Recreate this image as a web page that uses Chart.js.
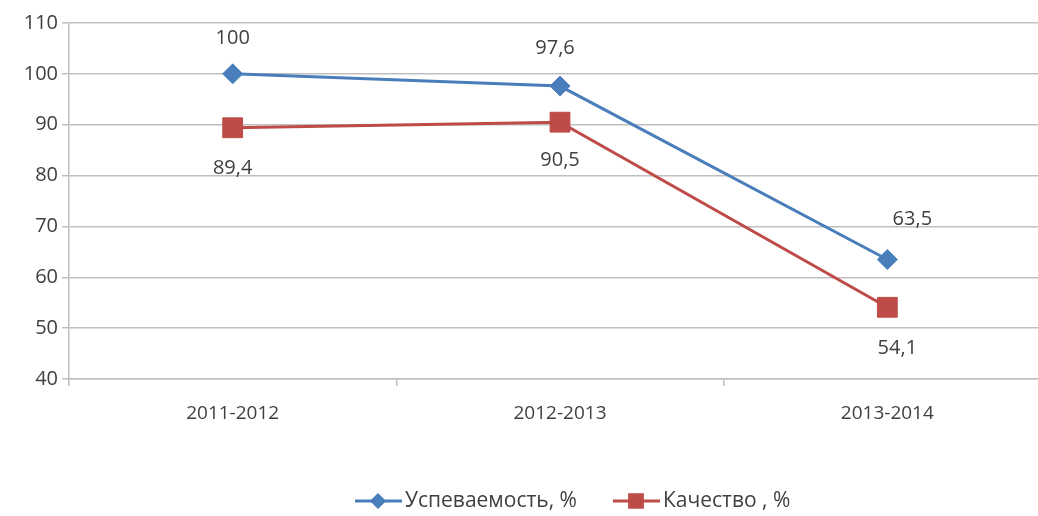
<!DOCTYPE html>
<html>
<head>
<meta charset="utf-8">
<script src="https://cdn.jsdelivr.net/npm/chart.js@4/dist/chart.umd.min.js"></script>
<style>
  html, body { margin: 0; padding: 0; background: #fff; overflow: hidden; }
  #outer { width: 1038px; height: 516px; overflow: hidden; position: relative; }
  #chart { position: absolute; left: 0; top: 0; }
</style>
</head>
<body>
<div id="outer"><canvas id="chart" width="1066" height="516"></canvas></div>
<script>
var years = ['2011-2012', '2012-2013', '2013-2014'];
var progress = [100, 97.6, 63.5];
var quality = [89.4, 90.5, 54.1];
var yTicks = [40, 50, 60, 70, 80, 90, 100, 110];

// label placement: [dx, dy] from the point
var progressLabelPos = [[0, -36], [-5, -38], [25, -40]];
var qualityLabelPos = [[0, 41], [0, 38], [10, 41]];

var textColor = '#404040';
var fontFamily = '"Open Sans", "Noto Sans", sans-serif';

var valueLabels = {
  id: 'valueLabels',
  afterDatasetsDraw: function(chart) {
    var ctx = chart.ctx;
    var places = [progressLabelPos, qualityLabelPos];
    ctx.save();
    ctx.font = '20px ' + fontFamily;
    ctx.fillStyle = textColor;
    ctx.textAlign = 'center';
    ctx.textBaseline = 'middle';
    chart.data.datasets.forEach(function(ds, i) {
      var meta = chart.getDatasetMeta(i);
      meta.data.forEach(function(pt, j) {
        var txt = String(ds.data[j]).replace('.', ',');
        ctx.fillText(txt, pt.x + places[i][j][0], pt.y + places[i][j][1]);
      });
    });
    ctx.restore();
  }
};

// Excel-style legend: line with marker, then the label
var legendStart = [355, 613];
var legendY = 501;

var lineLegend = {
  id: 'lineLegend',
  afterDraw: function(chart) {
    var ctx = chart.ctx;
    ctx.save();
    ctx.font = '21px ' + fontFamily;
    ctx.textAlign = 'left';
    ctx.textBaseline = 'middle';
    chart.data.datasets.forEach(function(ds, i) {
      var x = legendStart[i];
      ctx.strokeStyle = ds.borderColor;
      ctx.lineWidth = 3;
      ctx.beginPath();
      ctx.moveTo(x, legendY);
      ctx.lineTo(x + 47, legendY);
      ctx.stroke();
      ctx.fillStyle = ds.backgroundColor;
      Chart.helpers.drawPoint(ctx, {
        pointStyle: ds.pointStyle,
        radius: ds.pointStyle === 'rect' ? 9 : 6,
        borderWidth: 1
      }, x + 23, legendY);
      ctx.fill();
      ctx.fillStyle = textColor;
      ctx.fillText(ds.label, x + 50, legendY);
    });
    ctx.restore();
  }
};

new Chart(document.getElementById('chart'), {
  type: 'line',
  data: {
    labels: years,
    datasets: [{
      label: 'Успеваемость, %',
      data: progress,
      borderColor: '#4A7EBB',
      backgroundColor: '#4A7EBB',
      borderWidth: 3,
      pointStyle: 'rectRot',
      pointRadius: 10,
      pointBorderWidth: 1,
      tension: 0
    }, {
      label: 'Качество , %',
      data: quality,
      borderColor: '#BE4B48',
      backgroundColor: '#BE4B48',
      borderWidth: 3,
      pointStyle: 'rect',
      pointRadius: 14,
      pointBorderWidth: 1,
      tension: 0
    }]
  },
  options: {
    responsive: false,
    animation: false,
    layout: { padding: { top: 23, right: 0, left: 0, bottom: 54 } },
    plugins: {
      tooltip: { enabled: false },
      legend: { display: false }
    },
    scales: {
      x: {
        offset: true,
        afterFit: function(s) {
          s.height = 83;
          s.paddingLeft = 0;
          s.paddingRight = 0;
        },
        grid: {
          offset: true,
          drawOnChartArea: false,
          drawTicks: true,
          tickLength: 7,
          color: '#BFBFBF',
          lineWidth: 1.5
        },
        border: { color: '#BFBFBF', width: 1.5 },
        ticks: {
          color: textColor,
          font: { family: fontFamily, size: 19 },
          padding: 16
        }
      },
      y: {
        min: 40,
        max: 110,
        afterFit: function(s) { s.width = 69; },
        afterBuildTicks: function(s) {
          s.ticks = yTicks.map(function(v) { return { value: v }; });
        },
        grid: {
          color: '#BFBFBF',
          lineWidth: 1.5,
          tickLength: 7
        },
        border: { color: '#BFBFBF', width: 1.5 },
        ticks: {
          color: textColor,
          font: { family: fontFamily, size: 20 },
          padding: 4
        }
      }
    }
  },
  plugins: [valueLabels, lineLegend]
});
</script>
</body>
</html>
